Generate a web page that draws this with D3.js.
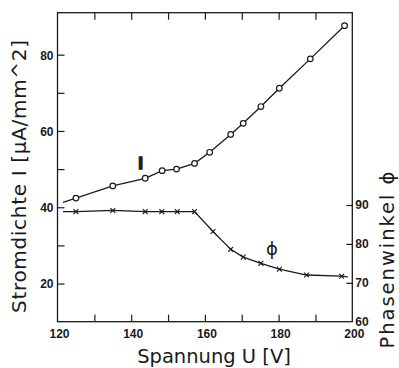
<!DOCTYPE html>
<html>
<head>
<meta charset="utf-8">
<script src="https://cdn.jsdelivr.net/npm/d3@7"></script>
<style>
    body { margin: 0; background: #fff; }
    svg { display: block; }
</style>
</head>
<body>
<div id="chart"></div>
<script>
(function () {
    'use strict';

    // current density I over voltage (circles)
    var uI = [125, 135, 143.8, 148.4, 152.3, 157.2, 161.3, 167, 170.4, 175.2, 180.2, 188.6, 197.9];
    var stromI = [42.4, 45.6, 47.6, 49.6, 50.0, 51.5, 54.4, 59.1, 62.0, 66.4, 71.2, 78.9, 87.6];

    // phase angle over voltage (crosses)
    var uPhi = [125, 135, 143.8, 148.3, 152.5, 157.2, 162.2, 167, 170.4, 175.2, 180.2, 187.6, 197.1];
    var phi = [88.3, 88.6, 88.3, 88.3, 88.3, 88.3, 83.2, 78.6, 76.6, 75.0, 73.5, 72.0, 71.7];

    // ends of the drawn curves outside the measured points
    var iLineStart = [121.5, 41.3];
    var phiLineStart = [121.5, 88.3];
    var phiLineEnd = [198.8, 71.5];

    // axis ticks
    var xTicks = [130, 140, 150, 160, 170, 180, 190];
    var xLabels = [120, 140, 160, 180, 200];
    var yTicks = [20, 30, 40, 50, 60, 70, 80];
    var yLabels = [20, 40, 60, 80];
    var y2Ticks = [70, 80, 90];
    var y2Labels = [60, 70, 80, 90];

    var width = 399, height = 368;
    var left = 57.5, right = 352.3, top = 12.7, bottom = 321.7;
    var ink = "#1a1a1a";

    var svg = d3.select("#chart")
        .append("svg")
        .attr("width", width)
        .attr("height", height);

    var x = d3.scaleLinear().domain([120, 200]).range([left, right]);
    var y = d3.scaleLinear().domain([10, 91]).range([bottom, top]);
    var y2 = d3.scaleLinear().domain([60, 90]).range([bottom, 205]);

    var tickFont = "'Liberation Sans', Arial, sans-serif";
    var titleFont = "'DejaVu Sans', sans-serif";

    function styleAxis(g) {
        g.select(".domain").remove();
        g.selectAll("line").attr("stroke", ink).attr("stroke-width", 1.2);
        g.selectAll("text")
            .attr("fill", ink)
            .style("font-family", tickFont)
            .style("font-weight", "bold")
            .style("font-size", "12px");
    }

    // inward tick marks
    svg.append("g").attr("transform", "translate(0," + bottom + ")")
        .call(d3.axisBottom(x).tickValues(xTicks).tickSize(-7).tickFormat(""))
        .call(styleAxis);
    svg.append("g").attr("transform", "translate(0," + top + ")")
        .call(d3.axisTop(x).tickValues(xTicks).tickSize(-7).tickFormat(""))
        .call(styleAxis);
    svg.append("g").attr("transform", "translate(" + left + ",0)")
        .call(d3.axisLeft(y).tickValues(yTicks).tickSize(-7).tickFormat(""))
        .call(styleAxis);
    svg.append("g").attr("transform", "translate(" + right + ",0)")
        .call(d3.axisRight(y2).tickValues(y2Ticks).tickSize(-6).tickFormat(""))
        .call(styleAxis);

    // tick labels
    svg.append("g").attr("transform", "translate(1.5," + bottom + ")")
        .call(d3.axisBottom(x).tickValues(xLabels).tickSize(0).tickPadding(8))
        .call(styleAxis);
    svg.append("g").attr("transform", "translate(" + left + ",0.5)")
        .call(d3.axisLeft(y).tickValues(yLabels).tickSize(0).tickPadding(4))
        .call(styleAxis);
    svg.append("g").attr("transform", "translate(" + right + ",0)")
        .call(d3.axisRight(y2).tickValues(y2Labels).tickSize(0).tickPadding(3))
        .call(styleAxis);

    // frame
    svg.append("rect")
        .attr("x", left).attr("y", top)
        .attr("width", right - left).attr("height", bottom - top)
        .attr("fill", "none")
        .attr("stroke", ink)
        .attr("stroke-width", 1.3);

    // data tables
    var dataI = uI.map(function (u, i) { return [u, stromI[i]]; });
    var dataPhi = uPhi.map(function (u, i) { return [u, phi[i]]; });

    var lineI = d3.line()
        .x(function (d) { return x(d[0]); })
        .y(function (d) { return y(d[1]); });
    var linePhi = d3.line()
        .x(function (d) { return x(d[0]); })
        .y(function (d) { return y2(d[1]); });

    svg.append("path")
        .datum([iLineStart].concat(dataI))
        .attr("d", lineI)
        .attr("fill", "none")
        .attr("stroke", ink)
        .attr("stroke-width", 1.3);

    svg.append("path")
        .datum([phiLineStart].concat(dataPhi, [phiLineEnd]))
        .attr("d", linePhi)
        .attr("fill", "none")
        .attr("stroke", ink)
        .attr("stroke-width", 1.3);

    // circles for I
    svg.selectAll("circle.pt")
        .data(dataI)
        .enter()
        .append("circle")
        .attr("class", "pt")
        .attr("cx", function (d) { return x(d[0]); })
        .attr("cy", function (d) { return y(d[1]); })
        .attr("r", 2.8)
        .attr("fill", "#fff")
        .attr("stroke", ink)
        .attr("stroke-width", 1.2);

    // crosses for phi
    var s = 2.4;
    var cross = svg.selectAll("g.cross")
        .data(dataPhi)
        .enter()
        .append("g")
        .attr("class", "cross")
        .attr("transform", function (d) {
            return "translate(" + x(d[0]) + "," + y2(d[1]) + ")";
        });
    cross.append("path")
        .attr("d", "M" + (-s) + "," + (-s) + "L" + s + "," + s + "M" + (-s) + "," + s + "L" + s + "," + (-s))
        .attr("stroke", ink)
        .attr("stroke-width", 1.1);

    // curve labels
    svg.append("text")
        .attr("x", 140.5).attr("y", 169)
        .attr("text-anchor", "middle")
        .attr("fill", ink)
        .attr("stroke", ink)
        .attr("stroke-width", 1.4)
        .style("font-family", tickFont)
        .style("font-weight", "bold")
        .style("font-size", "17px")
        .text("I");

    svg.append("text")
        .attr("x", 272).attr("y", 255)
        .attr("text-anchor", "middle")
        .attr("fill", ink)
        .style("font-family", titleFont)
        .style("font-size", "18px")
        .text("\u03D5");

    // axis titles
    svg.append("text")
        .attr("x", 214).attr("y", 362.5)
        .attr("text-anchor", "middle")
        .attr("fill", ink)
        .style("font-family", titleFont)
        .style("font-size", "19.5px")
        .text("Spannung U [V]");

    svg.append("text")
        .attr("transform", "translate(25.5,176.5) rotate(-90)")
        .attr("text-anchor", "middle")
        .attr("fill", ink)
        .style("font-family", titleFont)
        .style("font-size", "20px")
        .attr("textLength", 273)
        .attr("lengthAdjust", "spacing")
        .text("Stromdichte I [\u03BCA/mm^2]");

    svg.append("text")
        .attr("transform", "translate(393.5,260) rotate(-90)")
        .attr("text-anchor", "middle")
        .attr("fill", ink)
        .style("font-family", titleFont)
        .style("font-size", "19.5px")
        .attr("textLength", 177)
        .attr("lengthAdjust", "spacing")
        .text("Phasenwinkel \u03D5");
}());
</script>
</body>
</html>
